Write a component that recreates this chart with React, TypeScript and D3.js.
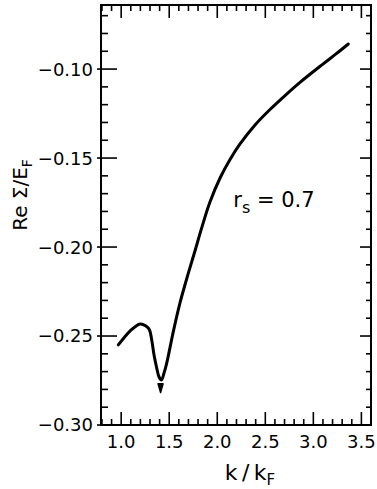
import React from "react";
import * as d3 from "d3";

// Real part of the self-energy vs k/kF for rs = 0.7
const kValues = [
  0.97, 1.092, 1.196, 1.258, 1.295, 1.318, 1.342, 1.37, 1.394, 1.42, 1.446,
  1.474, 1.542, 1.612, 1.695, 1.768, 1.841, 1.924, 2.029, 2.133, 2.237, 2.393,
  2.549, 2.705, 2.861, 3.1, 3.236, 3.364,
];
const reSigma = [
  -0.255, -0.2472, -0.2432, -0.2444, -0.2466, -0.2522, -0.2607, -0.268,
  -0.273, -0.2747, -0.2708, -0.2652, -0.2477, -0.2314, -0.2154, -0.2022,
  -0.1887, -0.1747, -0.1612, -0.1508, -0.1421, -0.1314, -0.1227, -0.1149,
  -0.1075, -0.0972, -0.0915, -0.0859,
];

// Small downward pointer under the dip
const pointerK = 1.41;
const pointerFrom = -0.2768;
const pointerTo = -0.2818;

const xTickLabels = ["1.0", "1.5", "2.0", "2.5", "3.0", "3.5"];
const yTickLabels = ["-0.30", "-0.25", "-0.20", "-0.15", "-0.10"];

const W = 377;
const H = 489;
const FONT = "'DejaVu Sans', sans-serif";

export default function App() {
  const x = d3.scaleLinear().domain([0.79, 3.6]).range([101, 371]);
  const y = d3.scaleLinear().domain([-0.3, -0.064]).range([425, 5]);

  const line = d3
    .line<number>()
    .x((_, i) => x(kValues[i]))
    .y((d) => y(d))
    .curve(d3.curveCatmullRom.alpha(0.5));

  const xMinor = d3.range(8, 37).map((v) => v / 10);
  const yMinor = d3.range(-30, -6).map((v) => v / 100);
  const isMajorX = (v: number) => Math.abs(v * 2 - Math.round(v * 2)) < 1e-6;
  const isMajorY = (v: number) => Math.abs(v * 20 - Math.round(v * 20)) < 1e-6;

  const [x0, x1] = x.range();
  const [y0, y1] = y.range();

  const px = x(pointerK);
  const pyA = y(pointerFrom);
  const pyB = y(pointerTo);

  return (
    <svg
      width={W}
      height={H}
      style={{ position: "absolute", left: 0, top: 0, background: "#fff" }}
      fontFamily={FONT}
    >
      {/* frame */}
      <rect
        x={x0}
        y={y1}
        width={x1 - x0}
        height={y0 - y1}
        fill="none"
        stroke="#000"
        strokeWidth={2}
      />
      {/* bottom & top ticks */}
      {xMinor.map((v) => {
        const len = isMajorX(v) ? 13 : 6;
        const xx = x(v);
        return (
          <g key={"xt" + v}>
            <line x1={xx} x2={xx} y1={y0} y2={y0 - len} stroke="#000" strokeWidth={1.6} />
            <line x1={xx} x2={xx} y1={y1} y2={y1 + len} stroke="#000" strokeWidth={1.6} />
          </g>
        );
      })}
      {/* left & right ticks */}
      {yMinor.map((v) => {
        const major = isMajorY(v);
        const yy = y(v);
        return (
          <g key={"yt" + v}>
            <line
              x1={major ? x0 - 4 : x0}
              x2={x0 + (major ? 16 : 7)}
              y1={yy}
              y2={yy}
              stroke="#000"
              strokeWidth={1.6}
            />
            <line
              x1={x1}
              x2={x1 - (major ? 11 : 5)}
              y1={yy}
              y2={yy}
              stroke="#000"
              strokeWidth={1.6}
            />
          </g>
        );
      })}
      {/* x tick labels */}
      {xTickLabels.map((t) => (
        <text
          key={"xl" + t}
          x={x(+t)}
          y={448}
          textAnchor="middle"
          fontSize={18}
          fill="#000"
        >
          {t}
        </text>
      ))}
      {/* y tick labels */}
      {yTickLabels.map((t) => (
        <text
          key={"yl" + t}
          x={93}
          y={y(+t)}
          dy="0.36em"
          textAnchor="end"
          fontSize={18}
          fill="#000"
        >
          {t.replace("-", "\u2212")}
        </text>
      ))}
      {/* axis titles */}
      <text x={250} y={480} textAnchor="middle" fontSize={22} fill="#000">
        k{"\u2009"}/{"\u2009"}k
        <tspan fontSize={15} dy={5}>
          F
        </tspan>
      </text>
      <text
        transform="translate(27,195) rotate(-90)"
        textAnchor="middle"
        fontSize={20}
        fill="#000"
      >
        Re Σ/E
        <tspan fontSize={14} dy={5}>
          F
        </tspan>
      </text>
      {/* curve */}
      <path
        d={line(reSigma) || ""}
        fill="none"
        stroke="#000"
        strokeWidth={3}
        strokeLinejoin="round"
        strokeLinecap="round"
      />
      <path
        d={`M${px - 2.5},${pyA} L${px + 2.5},${pyA} L${px},${pyB} Z`}
        fill="#000"
        stroke="#000"
        strokeWidth={1.5}
        strokeLinejoin="round"
      />
      {/* parameter label */}
      <text x={x(2.167)} y={y(-0.1775)} fontSize={21} fill="#000">
        r
        <tspan fontSize={16} dy={6}>
          s
        </tspan>
        <tspan dy={-6}> = 0.7</tspan>
      </text>
    </svg>
  );
}
